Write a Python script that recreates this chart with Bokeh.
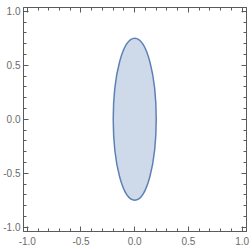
from bokeh.plotting import figure
from bokeh.models import FixedTicker, PrintfTickFormatter, LinearAxis, Range1d
from bokeh.embed import file_html
from bokeh.resources import INLINE

# data
center_x = [0.0]
center_y = [0.0]
ellipse_width = [0.4]   # full width (semi-axis 0.2)
ellipse_height = [1.5]  # full height (semi-axis 0.75)

major_ticks = [-1.0, -0.5, 0.0, 0.5, 1.0]
minor_ticks = [-1.0, -0.9, -0.8, -0.7, -0.6, -0.5, -0.4, -0.3, -0.2, -0.1, 0.0,
               0.1, 0.2, 0.3, 0.4, 0.5, 0.6, 0.7, 0.8, 0.9, 1.0]

FRAME = "#5a5a5a"
LABEL = "#6b6b6b"
BLUE = "#5e81b5"

p = figure(width=252, height=249, output_backend="svg", toolbar_location=None,
           x_range=Range1d(-1.035, 1.04), y_range=Range1d(-1.04, 1.035),
           x_axis_location=None, y_axis_location=None,
           min_border_left=22, min_border_right=6, min_border_top=7, min_border_bottom=18)
p.xgrid.visible = False
p.ygrid.visible = False
p.outline_line_color = FRAME
p.background_fill_color = "white"
p.border_fill_color = "white"

def make_axis(show_labels, standoff=3):
    ax = LinearAxis(ticker=FixedTicker(ticks=major_ticks, minor_ticks=minor_ticks),
                    formatter=PrintfTickFormatter(format="%.1f"))
    ax.axis_line_color = FRAME
    ax.major_tick_line_color = FRAME
    ax.minor_tick_line_color = FRAME
    ax.major_tick_in = 5
    ax.major_tick_out = 0
    ax.minor_tick_in = 3
    ax.minor_tick_out = 0
    if show_labels:
        ax.major_label_text_font = "Liberation Sans"
        ax.major_label_text_font_size = "10px"
        ax.major_label_text_color = LABEL
        ax.major_label_standoff = standoff
    else:
        ax.major_label_text_font_size = "0px"
        ax.major_label_standoff = 0
        ax.major_label_text_alpha = 0
    return ax

p.add_layout(make_axis(True, 5), "below")
p.add_layout(make_axis(True, 3), "left")
p.add_layout(make_axis(False), "above")
p.add_layout(make_axis(False), "right")

p.ellipse(x=center_x, y=center_y, width=ellipse_width, height=ellipse_height,
          fill_color=BLUE, fill_alpha=0.3, line_color=BLUE, line_width=1.5)

open("out.html", "w").write(file_html(p, INLINE))
